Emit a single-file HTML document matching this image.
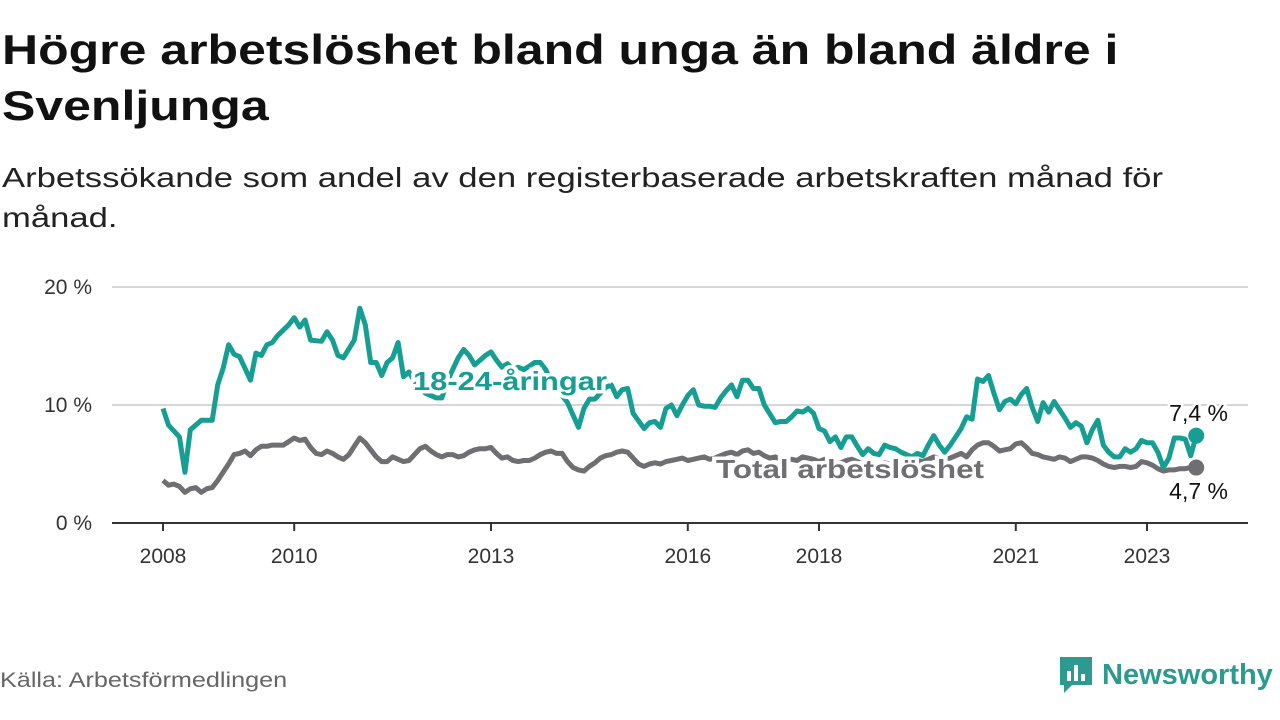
<!DOCTYPE html>
<html><head><meta charset="utf-8">
<style>
body{margin:0;background:#fff;width:1280px;height:720px;overflow:hidden;font-family:"Liberation Sans",sans-serif;}
#title{position:absolute;left:2px;top:22px;font-size:42px;font-weight:bold;color:#111;line-height:56px;margin:0;transform:scaleX(1.19);transform-origin:0 0;white-space:nowrap;}
#sub{position:absolute;left:2px;top:158px;font-size:28px;color:#222;line-height:40px;margin:0;transform:scaleX(1.237);transform-origin:0 0;white-space:nowrap;}
#src{position:absolute;left:0;top:669px;font-size:21px;color:#666;transform:scaleX(1.2);transform-origin:0 0;white-space:nowrap;}
#logo{position:absolute;left:1058px;top:655px;display:flex;align-items:center;gap:8px;color:#2c9a8e;font-weight:bold;font-size:29px;}
</style></head><body>
<h1 id="title">Högre arbetslöshet bland unga än bland äldre i<br>Svenljunga</h1>
<p id="sub">Arbetssökande som andel av den registerbaserade arbetskraften månad för<br>månad.</p>
<svg id="chart" width="1280" height="720" style="position:absolute;left:0;top:0" xmlns="http://www.w3.org/2000/svg"></svg>
<div id="src">Källa: Arbetsförmedlingen</div>
<div id="logo">
<svg width="36" height="40" viewBox="0 0 36 40"><path d="M2 2h32v28H14l-8 8v-8H2z" fill="#2c9a8e"/><rect x="9" y="16" width="4" height="10" fill="#fff"/><rect x="16" y="10" width="4" height="16" fill="#fff"/><rect x="23" y="19" width="4" height="7" fill="#fff"/></svg>
<span>Newsworthy</span></div>
<script>
const yTicks=[0,10,20];
const yTickLabels=["0 %","10 %","20 %"];
const xTicks=[2008,2010,2013,2016,2018,2021,2023];
const teenMonths=[0,1,3,4,5,7,9,10,11,12,13,14,16,17,18,19,20,21,23,24,25,26,27,29,30,31,32,33,35,36,37,38,39,40,41,42,43,44,45,46,47,48,49,50,51,52,53,54,55,56,57,58,59,60,61,62,63,64,65,66,67,68,69,70,71,72,73,74,76,77,78,79,80,81,82,83,84,85,86,88,89,90,91,92,93,94,95,96,97,98,99,100,101,102,103,104,105,106,107,108,109,110,112,113,114,115,116,117,118,119,120,121,122,123,124,125,126,127,128,129,130,131,132,133,134,135,136,137,138,139,140,141,142,143,144,145,146,147,148,149,150,151,152,153,154,155,156,157,158,159,160,161,162,163,164,165,166,167,168,169,170,171,172,173,174,175,176,177,178,179,180,181,182,183,184,185,186,187,188,189];
const teenValues=[9.7,8.3,7.3,4.3,7.9,8.7,8.7,11.7,13.1,15.1,14.3,14.1,12.1,14.4,14.2,15.1,15.3,15.9,16.8,17.4,16.6,17.2,15.5,15.4,16.2,15.5,14.2,14.0,15.5,18.2,16.8,13.6,13.6,12.5,13.6,14.0,15.3,12.4,12.8,12.0,11.5,11.0,10.8,10.6,10.6,12.0,13.0,14.0,14.7,14.2,13.4,13.8,14.2,14.5,13.8,13.2,13.5,13.0,13.2,13.0,13.3,13.6,13.6,13.0,12.0,11.5,10.8,10.2,8.1,9.7,10.5,10.5,11.0,11.5,11.7,10.7,11.3,11.4,9.3,8.0,8.5,8.6,8.1,9.7,10.0,9.1,10.0,10.8,11.3,10.0,9.9,9.9,9.8,10.6,11.2,11.7,10.7,12.1,12.1,11.4,11.4,10.0,8.5,8.6,8.6,9.0,9.5,9.4,9.7,9.3,8.0,7.8,6.9,7.3,6.4,7.3,7.3,6.5,5.8,6.3,5.9,5.8,6.6,6.4,6.3,6.0,5.8,5.6,5.9,5.7,6.6,7.4,6.6,6.0,6.6,7.3,8.0,9.0,8.8,12.2,12.0,12.5,11.0,9.6,10.3,10.5,10.1,10.9,11.4,9.8,8.6,10.2,9.4,10.3,9.6,8.9,8.1,8.5,8.2,6.8,7.9,8.7,6.6,6.0,5.6,5.6,6.3,6.0,6.3,7.0,6.8,6.8,6.0,4.7,5.5,7.2,7.2,7.1,5.7,7.4];
const totalValues=[3.6,3.2,3.3,3.1,2.6,2.9,3.0,2.6,2.9,3.0,3.6,4.3,5.0,5.8,5.9,6.1,5.7,6.2,6.5,6.5,6.6,6.6,6.6,6.9,7.2,7.0,7.1,6.4,5.9,5.8,6.1,5.9,5.6,5.4,5.8,6.5,7.2,6.8,6.2,5.6,5.2,5.2,5.6,5.4,5.2,5.3,5.8,6.3,6.5,6.1,5.8,5.6,5.8,5.8,5.6,5.7,6.0,6.2,6.3,6.3,6.4,5.9,5.5,5.6,5.3,5.2,5.3,5.3,5.5,5.8,6.0,6.1,5.9,5.9,5.2,4.7,4.5,4.4,4.8,5.1,5.5,5.7,5.8,6.0,6.1,6.0,5.5,5.0,4.8,5.0,5.1,5.0,5.2,5.3,5.4,5.5,5.3,5.4,5.5,5.6,5.4,5.5,5.7,5.9,6.0,5.8,6.1,6.2,5.9,6.0,5.7,5.5,5.6,5.4,5.3,5.4,5.3,5.6,5.5,5.4,5.2,5.4,5.2,5.0,5.1,5.3,5.4,5.2,5.0,5.0,4.9,5.0,5.1,5.0,4.9,5.0,5.2,5.1,5.3,5.2,5.4,5.6,5.5,5.3,5.5,5.7,5.9,5.6,6.2,6.6,6.8,6.8,6.5,6.1,6.2,6.3,6.7,6.8,6.4,5.9,5.8,5.6,5.5,5.4,5.6,5.5,5.2,5.4,5.6,5.6,5.5,5.3,5.0,4.8,4.7,4.8,4.8,4.7,4.8,5.2,5.1,4.9,4.6,4.4,4.5,4.5,4.6,4.6,4.7,4.7];

const svg=document.getElementById('chart');
const NS='http://www.w3.org/2000/svg';
const xM=m=>163+m*(65.6/12);
const xY=y=>163+(y-2008)*65.6;
const yS=v=>523-v*11.8;
function mk(t,a){const e=document.createElementNS(NS,t);for(const k in a)e.setAttribute(k,a[k]);svg.appendChild(e);return e;}

yTicks.forEach((v,i)=>{
  if(v>0){const g=mk('line',{x1:112,x2:1248,y1:yS(v),y2:yS(v),stroke:'#d6d6d6','stroke-width':2});
  
  }
  const t=mk('text',{x:92,y:yS(v)+7,'text-anchor':'end','font-size':21,fill:'#333','font-family':'Liberation Sans, sans-serif'});
  t.textContent=yTickLabels[i];
  
  
});
const base=mk('line',{x1:112,x2:1248,y1:523,y2:523,stroke:'#333','stroke-width':2});


xTicks.forEach(y=>{
  const tk=mk('line',{x1:xY(y),x2:xY(y),y1:523,y2:531,stroke:'#333','stroke-width':2});
  
  
  const t=mk('text',{x:xY(y),y:563,'text-anchor':'middle','font-size':21,fill:'#333','font-family':'Liberation Sans, sans-serif'});
  t.textContent=y;
  
  
});
function line(ms,vs,col,name){
  const d=ms.map((m,i)=>(i?'L':'M')+xM(m).toFixed(1)+' '+yS(vs[i]).toFixed(1)).join('');
  const p=mk('path',{d:d,fill:'none',stroke:col,'stroke-width':5,'stroke-linejoin':'round'});
  
  
  const c=mk('circle',{cx:xM(ms[ms.length-1]),cy:yS(vs[vs.length-1]),r:8,fill:col});
  
  
}
const totalMonths=totalValues.map((v,i)=>i);
line(totalMonths,totalValues,'#6e6e73','total-line');
line(teenMonths,teenValues,'#169e93','youth-line');
function lab(txt,x,y,col,bold,name,anchor,len){
  const a={x:x,y:y,'font-size':bold?26:23,'font-weight':bold?'bold':'normal',fill:col,stroke:'#fff','stroke-width':bold?7:5,'paint-order':'stroke','text-anchor':anchor||'start','font-family':'Liberation Sans, sans-serif'};
  if(len){a.textLength=len;a.lengthAdjust='spacingAndGlyphs';}
  const t=mk('text',a);
  t.textContent=txt;
  
  
}
lab('18-24-åringar',413,390,'#169e93',true,'youth-series-label','start',194);
lab('Total arbetslöshet',716,478,'#6e6e73',true,'total-series-label','start',268);
lab('7,4 %',1228,421,'#111',false,'youth-end-value','end');
lab('4,7 %',1228,499,'#111',false,'total-end-value','end');
</script>
</body></html>
